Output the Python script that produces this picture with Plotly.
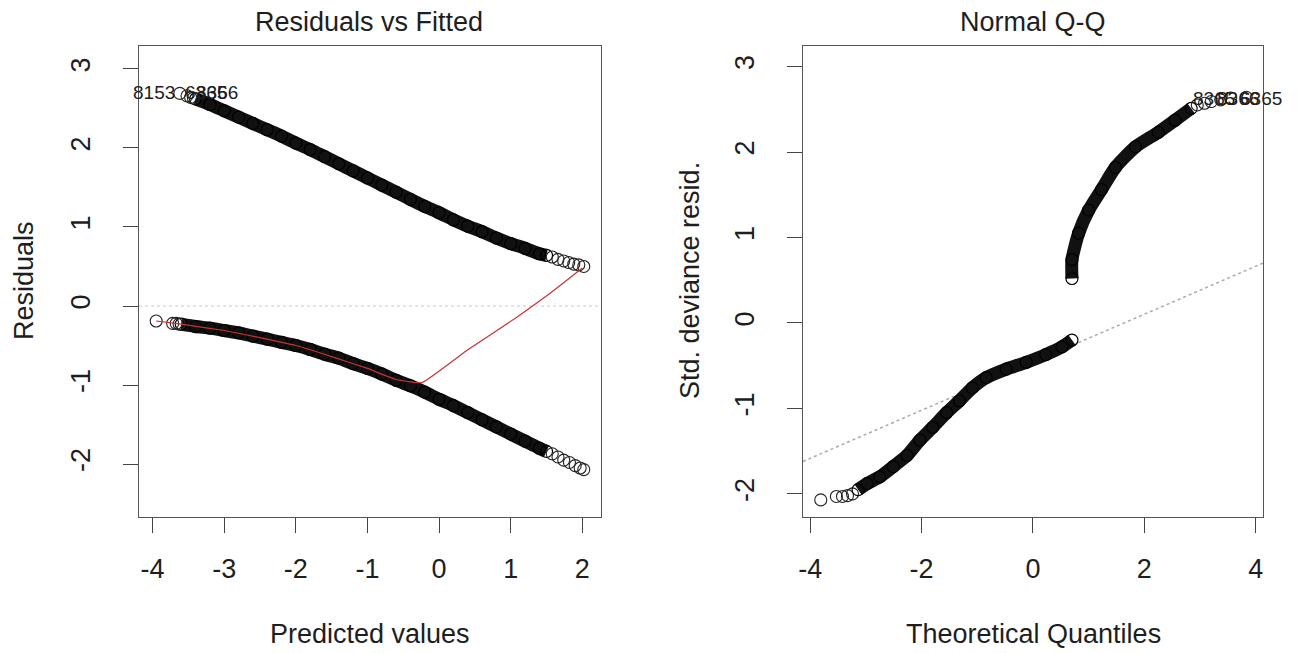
import plotly.graph_objects as go

# ---------------- Residuals vs Fitted (left) ----------------
# y = 1 branch (dense band)
top_band_x = [-3.40, -3.20, -3.00, -2.80, -2.60, -2.40, -2.20, -2.00, -1.80, -1.60, -1.40, -1.20, -1.00,
              -0.80, -0.60, -0.40, -0.20, 0.00, 0.20, 0.40, 0.60, 0.80, 1.00, 1.20, 1.40, 1.50]
top_band_y = [2.62, 2.55, 2.47, 2.39, 2.31, 2.23, 2.15, 2.06, 1.98, 1.89, 1.80, 1.71, 1.62,
              1.53, 1.44, 1.35, 1.26, 1.18, 1.09, 1.01, 0.94, 0.86, 0.79, 0.73, 0.66, 0.64]
# y = 1 branch (sparse end points)
top_sparse_x = [-3.62, -3.52, -3.47, -3.43, 1.58, 1.66, 1.74, 1.81, 1.88, 1.95, 2.02]
top_sparse_y = [2.69, 2.66, 2.64, 2.63, 0.62, 0.59, 0.57, 0.55, 0.53, 0.52, 0.50]
# y = 0 branch (dense band)
bot_band_x = [-3.60, -3.40, -3.20, -3.00, -2.80, -2.60, -2.40, -2.20, -2.00, -1.80, -1.60, -1.40, -1.20,
              -1.00, -0.80, -0.60, -0.40, -0.20, 0.00, 0.20, 0.40, 0.60, 0.80, 1.00, 1.20, 1.40, 1.50]
bot_band_y = [-0.23, -0.26, -0.28, -0.31, -0.34, -0.38, -0.42, -0.46, -0.50, -0.55, -0.61, -0.66, -0.73,
              -0.79, -0.86, -0.94, -1.01, -1.09, -1.18, -1.26, -1.35, -1.44, -1.53, -1.62, -1.71, -1.80, -1.84]
bot_sparse_x = [-3.95, -3.72, -3.67, -3.63, 1.58, 1.66, 1.74, 1.82, 1.90, 1.97, 2.02]
bot_sparse_y = [-0.19, -0.22, -0.22, -0.23, -1.87, -1.91, -1.95, -1.98, -2.02, -2.05, -2.07]
# smoother (red)
smooth_x = [-3.95, -3.60, -3.00, -2.50, -2.00, -1.50, -1.00, -0.60, -0.24, 0.39, 1.09, 1.55, 2.00]
smooth_y = [-0.19, -0.23, -0.31, -0.40, -0.50, -0.64, -0.79, -0.93, -0.97, -0.56, -0.14, 0.16, 0.48]
zero_x = [-4.19, 2.26]
zero_y = [0.0, 0.0]
left_labels = ["8153", "6365", "8366"]
left_label_x = [-3.66, -3.58, -3.42]
left_label_y = [2.70, 2.70, 2.70]
left_xticks = [-4, -3, -2, -1, 0, 1, 2]
left_xtick_text = ["-4", "-3", "-2", "-1", "0", "1", "2"]
left_yticks = [-2, -1, 0, 1, 2, 3]
left_ytick_text = ["-2", "-1", "0", "1", "2", "3"]

# ---------------- Normal Q-Q (right) ----------------
qq_low_sparse_x = [-3.81, -3.53, -3.42, -3.33, -3.24]
qq_low_sparse_y = [-2.07, -2.03, -2.03, -2.02, -2.00]
qq_low_band_x = [-3.14, -2.98, -2.75, -2.51, -2.26, -2.03, -1.80, -1.55, -1.32, -1.09, -0.84, -0.48,
                 -0.12, 0.23, 0.52, 0.70]
qq_low_band_y = [-1.95, -1.88, -1.80, -1.68, -1.55, -1.37, -1.22, -1.05, -0.91, -0.76, -0.64, -0.54,
                 -0.46, -0.37, -0.28, -0.20]
qq_up_band_x = [0.70, 0.70, 0.82, 1.00, 1.23, 1.48, 1.84, 2.25, 2.55, 2.84]
qq_up_band_y = [0.52, 0.74, 1.05, 1.32, 1.56, 1.82, 2.06, 2.23, 2.37, 2.51]
qq_up_sparse_x = [2.95, 3.08, 3.20, 3.37, 3.55, 3.83]
qq_up_sparse_y = [2.55, 2.57, 2.59, 2.61, 2.63, 2.64]
qqline_x = [-4.13, 4.13]
qqline_y = [-1.62, 0.70]
right_labels = ["8365", "8366", "6365"]
right_label_x = [2.83, 3.26, 3.69]
right_label_y = [2.63, 2.63, 2.63]
right_xticks = [-4, -2, 0, 2, 4]
right_xtick_text = ["-4", "-2", "0", "2", "4"]
right_yticks = [-2, -1, 0, 1, 2, 3]
right_ytick_text = ["-2", "-1", "0", "1", "2", "3"]

FONT = "Liberation Sans, Arial, sans-serif"
TXT = "#1e1e1e"
BOX = "#555555"
FS = 27

fig = go.Figure()

def band(x, y, xa, ya):
    fig.add_trace(go.Scatter(x=x, y=y, mode="lines", xaxis=xa, yaxis=ya,
                             line=dict(color="#111111", width=13, shape="spline", smoothing=0.6),
                             hoverinfo="skip", showlegend=False))
    fig.add_trace(go.Scatter(x=x, y=y, mode="markers", xaxis=xa, yaxis=ya,
                             marker=dict(symbol="circle-open", size=12, color="#000000", line=dict(width=1.2)),
                             hoverinfo="skip", showlegend=False))

def sparse(x, y, xa, ya):
    fig.add_trace(go.Scatter(x=x, y=y, mode="markers", xaxis=xa, yaxis=ya,
                             marker=dict(symbol="circle-open", size=12, color="#222222", line=dict(width=1.1)),
                             hoverinfo="skip", showlegend=False))

# left panel
fig.add_trace(go.Scatter(x=zero_x, y=zero_y, mode="lines", xaxis="x", yaxis="y",
                         line=dict(color="#c8c8c8", width=1, dash="dot"), hoverinfo="skip", showlegend=False))
band(top_band_x, top_band_y, "x", "y")
sparse(top_sparse_x, top_sparse_y, "x", "y")
band(bot_band_x, bot_band_y, "x", "y")
sparse(bot_sparse_x, bot_sparse_y, "x", "y")
fig.add_trace(go.Scatter(x=smooth_x, y=smooth_y, mode="lines", xaxis="x", yaxis="y",
                         line=dict(color="#c83232", width=1.2, shape="spline", smoothing=0.3),
                         hoverinfo="skip", showlegend=False))

# right panel
fig.add_trace(go.Scatter(x=qqline_x, y=qqline_y, mode="lines", xaxis="x2", yaxis="y2",
                         line=dict(color="#aaaaaa", width=1.5, dash="dot"), hoverinfo="skip", showlegend=False))
sparse(qq_low_sparse_x, qq_low_sparse_y, "x2", "y2")
band(qq_low_band_x, qq_low_band_y, "x2", "y2")
band(qq_up_band_x, qq_up_band_y, "x2", "y2")
sparse(qq_up_sparse_x, qq_up_sparse_y, "x2", "y2")

ann = []
for i, (t, x, y) in enumerate(zip(left_labels, left_label_x, left_label_y)):
    ann.append(dict(text=t, x=x, y=y, xref="x", yref="y", showarrow=False,
                    xanchor="right" if i == 0 else "left", yanchor="middle",
                    font=dict(family=FONT, size=19, color=TXT)))
for t, x, y in zip(right_labels, right_label_x, right_label_y):
    ann.append(dict(text=t, x=x, y=y, xref="x2", yref="y2", showarrow=False,
                    xanchor="left", yanchor="middle",
                    font=dict(family=FONT, size=19, color=TXT)))

# titles & axis titles (paper coords: plot area x 139..1263, y 46..517 in screen pixels)
def px(xp):
    return (xp - 139) / 1124.0
def py(yp):
    return (517 - yp) / 471.0

ann += [
    dict(text="Residuals vs Fitted", x=px(369), y=py(22), xref="paper", yref="paper", showarrow=False,
         xanchor="center", yanchor="middle", font=dict(family=FONT, size=FS, color=TXT)),
    dict(text="Normal Q-Q", x=px(1033), y=py(22), xref="paper", yref="paper", showarrow=False,
         xanchor="center", yanchor="middle", font=dict(family=FONT, size=FS, color=TXT)),
    dict(text="Predicted values", x=px(370), y=py(634), xref="paper", yref="paper", showarrow=False,
         xanchor="center", yanchor="middle", font=dict(family=FONT, size=FS, color=TXT)),
    dict(text="Theoretical Quantiles", x=px(1033), y=py(634), xref="paper", yref="paper", showarrow=False,
         xanchor="center", yanchor="middle", font=dict(family=FONT, size=FS, color=TXT)),
    dict(text="Residuals", x=px(24), y=py(281), xref="paper", yref="paper", showarrow=False, textangle=-90,
         xanchor="center", yanchor="middle", font=dict(family=FONT, size=FS, color=TXT)),
    dict(text="Std. deviance resid.", x=px(690), y=py(281), xref="paper", yref="paper", showarrow=False,
         textangle=-90, xanchor="center", yanchor="middle", font=dict(family=FONT, size=FS, color=TXT)),
]

axis_common = dict(showgrid=False, zeroline=False, showline=True, mirror=True, linecolor=BOX, linewidth=1.3,
                   ticks="outside", ticklen=15, tickwidth=1.3, tickcolor="#444444",
                   tickfont=dict(family=FONT, size=FS, color=TXT))

# page body has an 8px margin: figure is shifted by (8, 8)
fig.update_layout(
    width=1295, height=645,
    margin=dict(l=131, r=40, t=38, b=136),
    paper_bgcolor="white", plot_bgcolor="white",
    showlegend=False,
    annotations=ann,
    xaxis=dict(domain=[0, 0.411], range=[-4.19, 2.26], tickmode="array",
               tickvals=left_xticks, ticktext=left_xtick_text, ticklabelstandoff=12, **axis_common),
    yaxis=dict(domain=[0, 1], range=[-2.67, 3.29], tickmode="array",
               tickvals=left_yticks, ticktext=left_ytick_text, tickangle=-90, ticklabelstandoff=22,
               **axis_common),
    xaxis2=dict(domain=[0.5907, 1], range=[-4.13, 4.13], anchor="y2", tickmode="array",
                tickvals=right_xticks, ticktext=right_xtick_text, ticklabelstandoff=12, **axis_common),
    yaxis2=dict(domain=[0, 1], range=[-2.27, 3.24], anchor="x2", tickmode="array",
                tickvals=right_yticks, ticktext=right_ytick_text, tickangle=-90, ticklabelstandoff=22,
                **axis_common),
)

fig.write_html("out.html")
